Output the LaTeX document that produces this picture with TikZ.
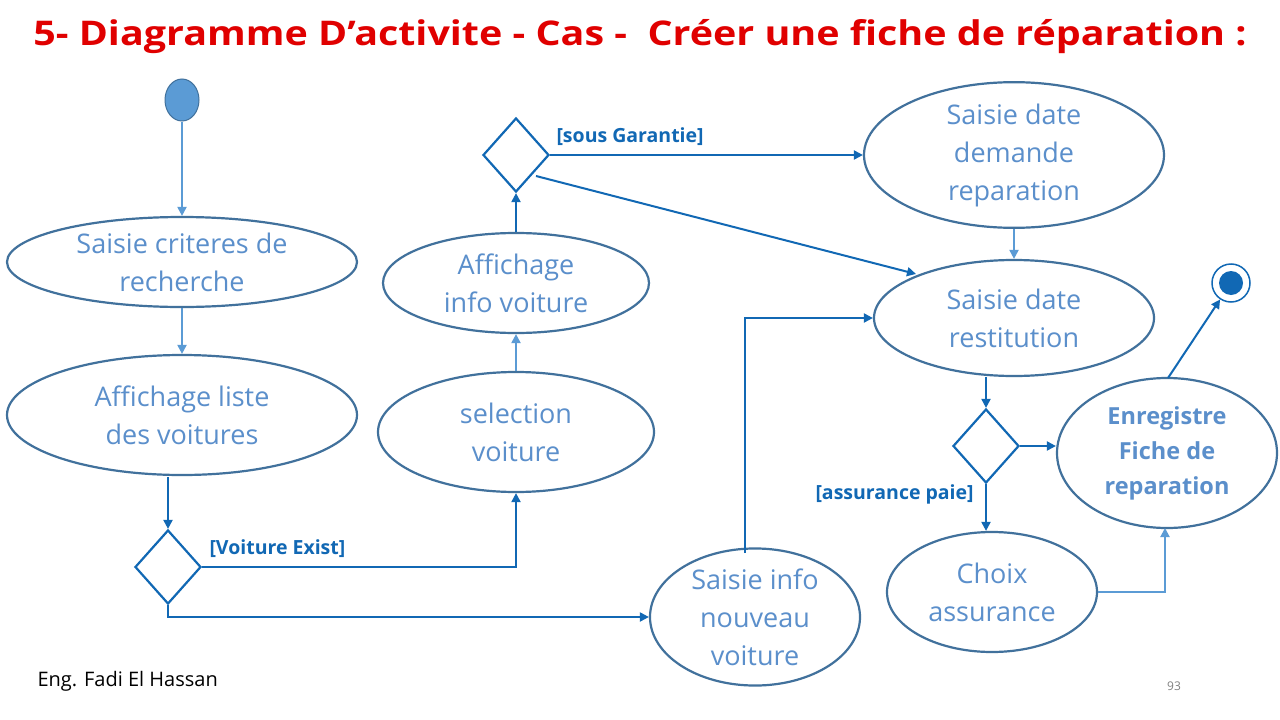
\documentclass[tikz,border=0pt]{standalone}
\usepackage{fontspec}
\setmainfont{Open Sans}
\usetikzlibrary{arrows.meta,shapes.geometric}
\definecolor{estroke}{HTML}{41719C}
\definecolor{etext}{HTML}{5B8FCB}
\definecolor{dark}{HTML}{1168B4}
\definecolor{light}{HTML}{5B9BD5}
\definecolor{tred}{HTML}{E00000}
\begin{document}
\begin{tikzpicture}[x=1pt,y=-1pt,
  act/.style={ellipse,draw=estroke,line width=2.2pt,inner sep=0pt,text=etext,font=\fontsize{27}{38}\selectfont,align=center},
  dec/.style={diamond,draw=dark,line width=2.2pt,inner sep=0pt,minimum width=66pt,minimum height=74pt,aspect=0.9},
  da/.style={draw=dark,line width=2pt,-{Triangle[length=9pt,width=9pt]}},
  la/.style={draw=light,line width=2pt,-{Triangle[length=9pt,width=9pt]}},
  lbl/.style={text=dark,font=\fontsize{19.5}{20}\selectfont\bfseries}]
\useasboundingbox[fill=white] (0,0) rectangle (1280,720);
\node[text=tred,font=\fontsize{34}{40}\selectfont\bfseries] (title) at (640,37) {\scalebox{1.16}[1]{5- Diagramme D’activite - Cas -\ \ Créer une fiche de réparation :}};
\node[ellipse,fill=light,draw=estroke,line width=1pt,minimum width=34pt,minimum height=42pt] (start) at (182,100) {};
\node[act,minimum width=350pt,minimum height=90pt] (e1) at (182,262) {Saisie criteres de\\recherche};
\node[act,minimum width=350pt,minimum height=120pt] (e2) at (182,415) {Affichage liste\\des voitures};
\node[dec] (d1) at (168,567) {};
\node[act,minimum width=276pt,minimum height=120pt] (e3) at (516,432) {selection\\voiture};
\node[act,minimum width=266pt,minimum height=100pt] (e4) at (516,283) {Affichage\\info voiture};
\node[dec] (d2) at (516,155) {};
\node[act,minimum width=300pt,minimum height=120pt] (e5) at (1014,155) {Saisie date\\demande\\reparation};
\node[act,minimum width=280pt,minimum height=116pt] (e6) at (1014,318) {Saisie date\\restitution};
\node[act,minimum width=210pt,minimum height=130pt] (e7) at (755,617) {Saisie info\\nouveau\\voiture};
\node[dec] (d3) at (986,446) {};
\node[act,minimum width=220pt,minimum height=150pt,font=\fontsize{23.5}{35}\selectfont\bfseries] (e8) at (1167,453) {Enregistre\\Fiche de\\reparation};
\node[act,minimum width=210pt,minimum height=120pt] (e9) at (992,592) {Choix\\assurance};
\node[circle,draw=dark,line width=1.5pt,minimum size=38pt,inner sep=0pt] (end) at (1231,283) {};
\node[circle,fill=dark,minimum size=24pt,inner sep=0pt] at (end) {};
\node[anchor=west,font=\fontsize{20}{22}\selectfont] (auth) at (34,681) {Eng. Fadi El Hassan};
\node[text=gray,font=\fontsize{12}{15}\selectfont] (pg) at (1174,686) {93};
\draw[la] (start) -- (e1);
\draw[la] (e1) -- (e2);
\draw[da] (168,477) -- (d1.north);
\draw[da] (d1.east) -- (516,567) -- (e3.south);
\node[lbl,anchor=west] (l1) at (206,549) {[Voiture Exist]};
\draw[da] (d1.south) -- (168,617) -- (e7.west);
\draw[da] (745,553) -- (745,318) -- (e6.west);
\draw[la] (e3) -- (e4);
\draw[da] (e4) -- (d2.south);
\draw[da] (d2.east) -- (e5.west);
\node[lbl,anchor=west] (l2) at (553,137) {[sous Garantie]};
\draw[da] (536,176) -- (916,274);
\draw[la] (e5) -- (e6);
\draw[da] (986,377) -- (d3.north);
\draw[da] (d3.east) -- (e8.west |- d3.east);
\draw[da] (d3.south) -- (e9.north -| d3.south);
\node[lbl,anchor=west] (l3) at (812,494) {[assurance paie]};
\draw[la] (e9.east) -- (1165,592) -- (1165,528);
\draw[da] (1168,378) -- (end);
\end{tikzpicture}
\end{document}
